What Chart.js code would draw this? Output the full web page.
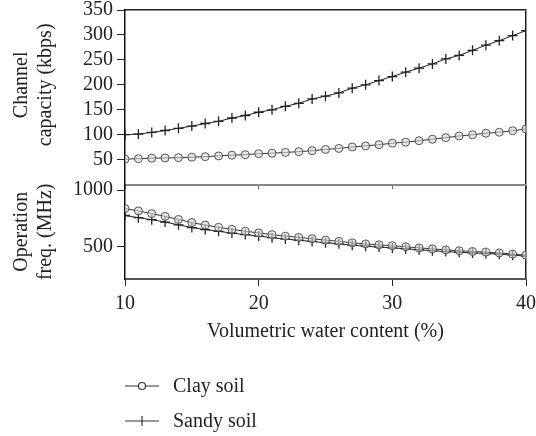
<!DOCTYPE html>
<html>
<head>
<meta charset="utf-8">
<script src="https://cdn.jsdelivr.net/npm/chart.js@4/dist/chart.umd.min.js"></script>
<style>
  html, body { margin: 0; padding: 0; background: #fff; }
  #wrap { position: relative; width: 536px; height: 436px; }
  #legend { position: absolute; left: 125px; top: 368px; font: 20px "Liberation Serif", serif; color: #222; }
  .item { display: flex; align-items: center; height: 35px; }
  .item svg { margin-right: 14px; }
</style>
</head>
<body>
<div id="wrap">
  <canvas id="chart" width="536" height="436"></canvas>
  <div id="legend">
    <div class="item">
      <svg width="34" height="16"><line x1="0" y1="8" x2="34" y2="8" stroke="#333" stroke-width="1.2"/><circle cx="17" cy="8" r="3.5" fill="#fff" stroke="#333" stroke-width="1.2"/></svg>
      <span>Clay soil</span>
    </div>
    <div class="item">
      <svg width="34" height="16"><line x1="0" y1="8" x2="34" y2="8" stroke="#333" stroke-width="1.2"/><line x1="17" y1="3" x2="17" y2="13" stroke="#333" stroke-width="1.2"/></svg>
      <span>Sandy soil</span>
    </div>
  </div>
</div>
<script>
// volumetric water content (%)
const waterContent = [10, 11, 12, 13, 14, 15, 16, 17, 18, 19, 20, 21, 22, 23, 24, 25,
  26, 27, 28, 29, 30, 31, 32, 33, 34, 35, 36, 37, 38, 39, 40];

// channel capacity (kbps)
const clayCapacity = [51, 52, 53, 53.5, 54, 55, 56, 57.5, 59, 60, 62, 63, 64.5, 66, 68, 70.5,
  72.5, 75.5, 77.5, 80, 83, 85, 88, 91, 94, 97.5, 100, 103, 105, 108, 111.5];
const sandyCapacity = [100, 101.3, 104.6, 108.5, 112.9, 117.3, 122.5, 126.9, 133.5, 138.5, 145,
  150, 157, 163, 171.7, 177.2, 183.8, 193.3, 200, 208.6, 216.6, 225.4, 233.4, 242, 252, 258.9,
  269.2, 279.4, 288.5, 298.8, 308.6];

// operation frequency (MHz)
const clayFreq = [837, 816, 792, 767, 740, 712, 690, 670, 652, 635, 620, 605, 591, 580, 568, 556,
  545, 532, 522, 514, 506, 497, 487, 478, 469, 462, 455, 449, 442, 432, 422];
const sandyFreq = [775, 756, 738, 717, 692, 668, 650, 634, 619, 605, 592, 578, 565, 555, 544, 533,
  523, 511, 502, 494, 487, 479, 470, 462, 454, 448, 442, 437, 431, 422, 414];

const xTicks = [10, 20, 30, 40];
const capacityTicks = [50, 100, 150, 200, 250, 300, 350];
const freqTicks = [500, 1000];

const FAMILY = '"Liberation Serif", "Times New Roman", serif';
const TITLE_FONT = { family: FAMILY, size: 20, lineHeight: 1.2 };
const INK = '#222';

const toPoints = (ys) => waterContent.map((x, i) => ({ x, y: ys[i] }));
const fixTicks = (values) => (scale) => { scale.ticks = values.map(v => ({ value: v })); };
const plain = (v) => String(v);
// the capacity title sits a little above the middle of its panel
const lift = (s) => '\u00a0'.repeat(5) + s;

const clayStyle = {
  borderColor: '#333', borderWidth: 1, pointStyle: 'circle', pointRadius: 4,
  pointBorderColor: '#555', pointBackgroundColor: 'rgba(215,215,215,0.6)', pointBorderWidth: 1,
};
const sandyStyle = {
  borderColor: '#222', borderWidth: 1, pointStyle: 'cross', pointRadius: 5,
  pointBorderColor: '#222', pointBorderWidth: 1.3,
};

const yTicks = { font: { family: FAMILY, size: 20, lineHeight: 0.6 }, color: INK, padding: 4, autoSkip: false, callback: plain };

new Chart(document.getElementById('chart'), {
  type: 'line',
  data: {
    datasets: [
      { label: 'Clay soil', data: toPoints(clayCapacity), yAxisID: 'yCap', ...clayStyle },
      { label: 'Sandy soil', data: toPoints(sandyCapacity), yAxisID: 'yCap', ...sandyStyle },
      { label: 'Clay soil', data: toPoints(clayFreq), yAxisID: 'yFreq', ...clayStyle },
      { label: 'Sandy soil', data: toPoints(sandyFreq), yAxisID: 'yFreq', ...sandyStyle },
    ],
  },
  options: {
    responsive: false,
    animation: false,
    layout: { padding: { left: 10, right: 0, top: 0, bottom: 94 } },
    plugins: { legend: { display: false }, tooltip: { enabled: false } },
    scales: {
      x: {
        type: 'linear', position: 'bottom', min: 10, max: 40,
        afterBuildTicks: fixTicks(xTicks),
        grid: { drawOnChartArea: false, color: INK, tickLength: 7 },
        border: { color: '#555', width: 2 },
        ticks: { font: { family: FAMILY, size: 20, lineHeight: 1.75 }, color: INK, padding: 0, callback: plain },
        title: { display: true, text: 'Volumetric water content (%)', font: { family: FAMILY, size: 20, lineHeight: 1 }, color: INK, padding: { top: 1, bottom: 0 } },
      },
      // divider between the two panels
      xMid: {
        type: 'linear', position: { yCap: 0 }, min: 10, max: 40,
        afterBuildTicks: fixTicks(xTicks),
        grid: { drawOnChartArea: false, color: '#666', tickLength: 3 },
        border: { color: '#888', width: 2 },
        ticks: { display: false },
      },
      // frame: top edge from the border, right edge from the grid line at 40
      xTop: {
        type: 'linear', position: 'top', min: 10, max: 40,
        afterBuildTicks: fixTicks([40]),
        grid: { drawTicks: false, color: INK, lineWidth: 1.5 }, ticks: { display: false },
        border: { color: INK, width: 1.5 },
      },
      yFreq: {
        type: 'linear', position: 'left', stack: 'left', stackWeight: 1, min: 210, max: 1050,
        afterBuildTicks: fixTicks(freqTicks),
        grid: { drawOnChartArea: false, color: INK, tickLength: 8 },
        border: { color: '#111', width: 1.5 },
        ticks: yTicks,
        title: { display: true, text: ['Operation', 'freq. (MHz)'], font: TITLE_FONT, color: INK, padding: { top: 0, bottom: 11 } },
      },
      yCap: {
        type: 'linear', position: 'left', stack: 'left', stackWeight: 1.85, min: 0, max: 350,
        afterBuildTicks: fixTicks(capacityTicks),
        grid: { drawOnChartArea: false, color: INK, tickLength: 8 },
        border: { color: '#111', width: 1.5 },
        ticks: yTicks,
        title: { display: true, text: [lift('Channel'), lift('capacity (kbps)')], font: TITLE_FONT, color: INK, padding: { top: 0, bottom: 11 } },
      },
    },
  },
});
</script>
</body>
</html>
